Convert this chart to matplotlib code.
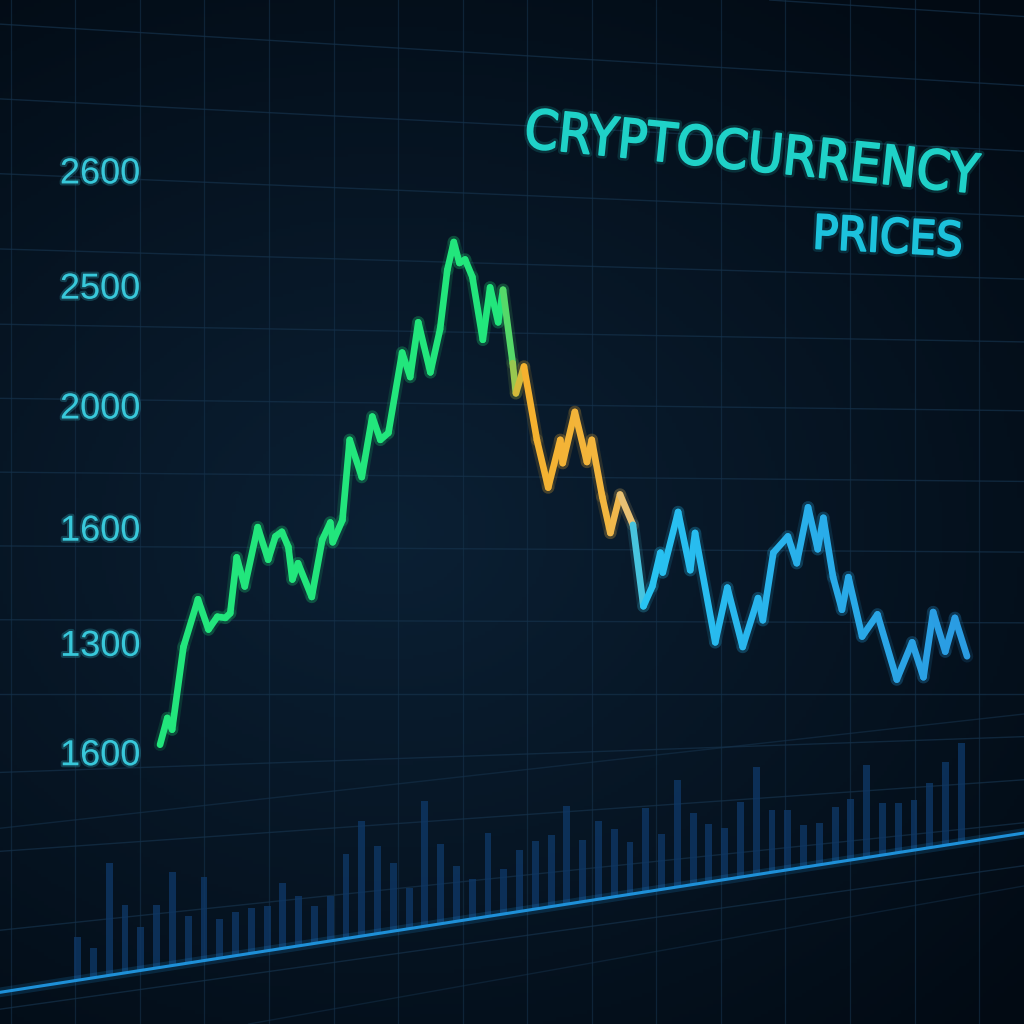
import numpy as np
import matplotlib
matplotlib.use("Agg")
import matplotlib.pyplot as plt
from matplotlib import font_manager
from matplotlib.font_manager import FontProperties
from matplotlib.collections import LineCollection
import matplotlib.patheffects as pe
from matplotlib.colors import to_rgb

# price trace (time index, price level in tick-slot units)
t_price = [0.0, 0.9, 1.5, 2.9, 4.7, 6.0, 7.1, 8.1, 8.7, 9.5, 10.5, 12.1, 13.4, 14.3,
           15.1, 15.9, 16.4, 17.1, 18.8, 20.1, 21.1, 21.4, 22.6, 23.5, 25.0, 26.3,
           27.3, 28.3, 30.0, 31.0, 32.0, 33.5, 34.7, 35.6, 36.4, 37.1, 37.8, 38.7,
           40.0, 40.9, 41.9, 42.5, 43.7, 44.1, 45.1, 46.7, 48.1, 49.6, 49.9, 51.4,
           52.9, 53.5, 54.8, 55.8, 57.0, 58.6, 59.9, 61.0, 62.0, 62.3, 64.2, 65.7,
           66.3, 68.8, 70.3, 72.2, 74.1, 74.7, 76.0, 77.8, 78.9, 80.3, 81.5, 82.2,
           83.4, 84.5, 85.3, 87.0, 88.9, 91.3, 93.2, 94.6, 95.8, 97.3, 98.5, 100.0]
price = [0.06, 0.29, 0.19, 0.90, 1.31, 1.05, 1.16, 1.15, 1.19, 1.67, 1.42, 1.93, 1.65, 1.85,
         1.89, 1.76, 1.48, 1.62, 1.33, 1.82, 1.97, 1.80, 1.99, 2.68, 2.36, 2.88,
         2.68, 2.74, 3.43, 3.22, 3.69, 3.26, 3.63, 4.14, 4.38, 4.20, 4.23, 4.08,
         3.54, 3.99, 3.69, 3.97, 3.34, 3.08, 3.31, 2.68, 2.27, 2.68, 2.48, 2.92,
         2.49, 2.68, 2.19, 1.88, 2.21, 1.95, 1.25, 1.42, 1.71, 1.54, 2.06, 1.56,
         1.88, 0.94, 1.41, 0.90, 1.32, 1.13, 1.71, 1.85, 1.62, 2.10, 1.74, 2.01,
         1.50, 1.22, 1.50, 0.99, 1.18, 0.62, 0.94, 0.64, 1.20, 0.86, 1.15, 0.82]

# trading volume bars (arbitrary units)
volume = [43, 30, 112, 68, 43, 63, 94, 47, 84, 39, 44, 45, 45, 65, 50, 37, 45, 85,
          115, 88, 68, 41, 125, 80, 55, 40, 83, 45, 62, 68, 72, 98, 62, 78, 68, 52,
          84, 55, 107, 72, 58, 52, 75, 108, 62, 60, 42, 42, 55, 61, 93, 52, 50, 50,
          65, 83, 100]
t_volume = np.linspace(-10.2, 99.3, len(volume))

tick_pos = [0.0, 0.94, 1.93, 2.98, 4.01, 5.0]
tick_labels = ["1600", "1300", "1600", "2000", "2500", "2600"]


def pick_title_font():
    # prefer a condensed / narrow sans if one is installed
    best = None
    for f in font_manager.fontManager.ttflist:
        name = f.name.lower()
        narrow = ("condensed" in name or "narrow" in name
                  or str(f.stretch) in ("condensed", "semi-condensed"))
        if not narrow or f.style != "normal":
            continue
        w = f.weight if isinstance(f.weight, int) else 400
        score = abs(w - 450)
        if best is None or score < best[0]:
            best = (score, f)
    if best is not None:
        return FontProperties(fname=best[1].fname)
    return FontProperties(family=["Liberation Sans", "DejaVu Sans"], weight="medium")


def has_font(name):
    try:
        font_manager.findfont(name, fallback_to_default=False)
        return True
    except Exception:
        return False


label_font = "Liberation Sans" if has_font("Liberation Sans") else "DejaVu Sans"
title_fp = pick_title_font()

BG = "#061424"
GRID = "#15314a"

fig = plt.figure(figsize=(10.24, 10.24), dpi=100, facecolor=BG)

# soft radial background glow
bg_ax = fig.add_axes([0, 0, 1, 1], zorder=0)
yy, xx = np.mgrid[0:1:300j, 0:1:300j]
r = np.sqrt(((xx - 0.38) / 1.0) ** 2 + ((yy - 0.52) / 0.8) ** 2)
glow = np.clip(1 - r / 0.85, 0, 1)
c0 = np.array(to_rgb("#020a13"))
c1 = np.array(to_rgb("#0b2034"))
img = c0 + (c1 - c0) * glow[..., None]
bg_ax.imshow(img, extent=[0, 1, 0, 1], aspect="auto", origin="upper")
bg_ax.set_axis_off()

ax = fig.add_axes([0, 0, 1, 1], zorder=1)
ax.patch.set_alpha(0)
ax.set_xlim(-19.83, 107.06)
ax.set_ylim(-2.34, 6.46)
for s in ax.spines.values():
    s.set_visible(False)

# perspective-ish grid: vertical lines and gently converging horizontals
for tv in np.arange(-18.5, 108, 8):
    ax.axvline(tv, color=GRID, lw=0.9, alpha=0.6, zorder=1)
slope_L = [-2.3, -0.8, 0.5, 3.5, 5.0, 6.5]
slope_v = [0.0108, 0.005, 0.0, -0.001, -0.003, -0.0045]
for lv in np.arange(3.02 - 0.63 * 8, 7.0, 0.63):
    ax.axline((0, lv), slope=float(np.interp(lv, slope_L, slope_v)),
              color=GRID, lw=1.0, alpha=0.7, zorder=1)

# floor / baseline
floor0, floor_slope = -2.02, 0.01079


def floor_at(t):
    return floor0 + floor_slope * (np.asarray(t) + 15.4)


vol_scale = 1 / 116.4
ax.bar(t_volume, np.array(volume) * vol_scale, bottom=floor_at(t_volume),
       width=0.85, color="#0e3765", alpha=0.8, zorder=2)
ax.axline((-15.4, floor0), slope=floor_slope, color="#1e90d8", lw=2.2, zorder=3,
          path_effects=[pe.withStroke(linewidth=7, foreground="#1e90d8", alpha=0.18)])
ax.axline((4.46, -0.47), (65.2, 0.0), color=GRID, lw=1.0, alpha=0.6, zorder=1)
ax.axline((19.1, -2.24), (69.3, -1.62), color=GRID, lw=1.0, alpha=0.5, zorder=1)

# price line, coloured by phase
t_arr = np.array(t_price)
p_arr = np.array(price)
pts = np.column_stack([t_arr, p_arr]).reshape(-1, 1, 2)
segs = np.concatenate([pts[:-1], pts[1:]], axis=1)
tm = (t_arr[:-1] + t_arr[1:]) / 2
anchors_t = [0, 42.5, 45.0, 56.0, 58.0, 59.5, 100]
anchors_c = [to_rgb(c) for c in ["#22e67c", "#22e67c", "#f5b12e", "#f2b640",
                                  "#e8c27a", "#28c4f2", "#2a9be2"]]
cols = np.column_stack([np.interp(tm, anchors_t, [c[i] for c in anchors_c]) for i in range(3)])

ax.add_collection(LineCollection(segs, colors=cols, linewidths=9, alpha=0.14,
                                 capstyle="round", joinstyle="round", zorder=4))
ax.add_collection(LineCollection(segs, colors=cols, linewidths=4.8,
                                 capstyle="round", joinstyle="round", zorder=5))

# y labels drawn inside the plot area
ax.set_xticks([])
ax.set_yticks(tick_pos, tick_labels)
ax.tick_params(axis="y", length=0, pad=-101, labelsize=26, labelcolor="#38c8da")
for lab in ax.get_yticklabels():
    lab.set_fontfamily(label_font)
    lab.set_path_effects([pe.withStroke(linewidth=3, foreground="#38c8da", alpha=0.25)])


# title, sized to the width it takes in the reference
def fitted_text(x, y, s, width_px, cap_px, rot, color, ha):
    t = fig.text(x, y, s, fontproperties=title_fp.copy(), fontsize=40, color=color,
                 ha=ha, va="baseline", zorder=6)
    fig.canvas.draw()
    w = t.get_window_extent().width
    size = min(40 * width_px / w, cap_px)
    t.set_fontsize(size)
    t.set_rotation(rot)
    t.set_rotation_mode("anchor")
    # a thin same-colour stroke gives the medium weight of the reference
    t.set_path_effects([pe.withStroke(linewidth=5, foreground=color, alpha=0.16),
                        pe.withStroke(linewidth=1.3, foreground=color)])
    return t


fitted_text(523 / 1024, 1 - 147 / 1024, "CRYPTOCURRENCY", 456, 52, -5.8, "#1fd2c8", "left")
fitted_text(962 / 1024, 1 - 256 / 1024, "PRICES", 150, 45, -3, "#1cc2dc", "right")

fig.savefig("out.png", dpi=100, facecolor=BG)
